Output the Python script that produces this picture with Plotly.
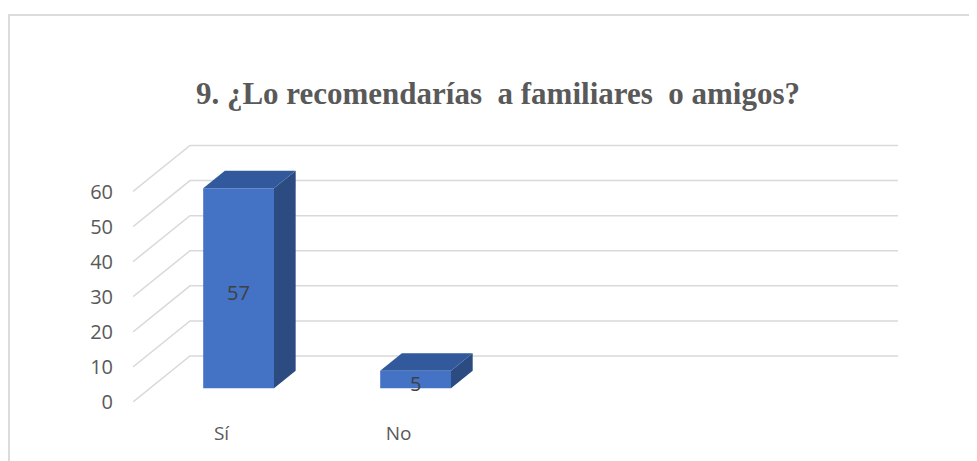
import plotly.graph_objects as go

# ── Data ──
categories = ["Sí", "No"]
values = [57, 5]
y_ticks = [0, 10, 20, 30, 40, 50, 60]

TITLE = "9. ¿Lo recomendarías  a familiares  o amigos?"

# ── Fake 3D projection (Excel-style 3D column) ──
N_SLOTS = 4          # category slots along the floor
DX = 0.322           # x shift of the back wall (category units)
DY = 13.11           # y shift of the back wall (value units)
BAR_W = 0.4
F0, F1 = 0.30, 0.68  # bar front / back depth (fraction of floor depth)

FRONT = "#4472c4"
SIDE = "#2c4b81"
TOP = "#32599c"
GRID = "#d9d9d9"
TEXT = "#595959"

# plot area in figure pixels
L, R, T, B = 125, 890, 132, 394
W, H = 977, 461


def proj(x, v, d):
    """Project a point (x, value, depth) onto the 2D axes."""
    return x + d * DX, v + d * DY


def poly(pts, color):
    xs = [p[0] for p in pts] + [pts[0][0]]
    ys = [p[1] for p in pts] + [pts[0][1]]
    return go.Scatter(x=xs, y=ys, mode="lines", fill="toself", fillcolor=color,
                      line=dict(width=0, color=color), hoverinfo="skip",
                      showlegend=False)


fig = go.Figure()

# gridlines: diagonal on the side wall + horizontal on the back wall
for v in y_ticks:
    x0, y0 = proj(0, v, 0)
    x1, y1 = proj(0, v, 1)
    x2, y2 = proj(N_SLOTS, v, 1)
    fig.add_trace(go.Scatter(x=[x0, x1, x2], y=[y0, y1, y2], mode="lines",
                             line=dict(color=GRID, width=1.5),
                             hoverinfo="skip", showlegend=False))

# bars
labels = []
for i, (cat, v) in enumerate(zip(categories, values)):
    xl, xr = i + 0.5 - BAR_W / 2, i + 0.5 + BAR_W / 2
    fl_b, fr_b = proj(xl, 0, F0), proj(xr, 0, F0)
    fl_t, fr_t = proj(xl, v, F0), proj(xr, v, F0)
    br_b, br_t, bl_t = proj(xr, 0, F1), proj(xr, v, F1), proj(xl, v, F1)
    fig.add_trace(poly([fr_b, br_b, br_t, fr_t], SIDE))
    fig.add_trace(poly([fl_t, fr_t, br_t, bl_t], TOP))
    fig.add_trace(poly([fl_b, fr_b, fr_t, fl_t], FRONT))
    cx, cy = proj(i + 0.5, v / 2, F0)
    labels.append(dict(x=cx, y=cy, text=str(v), showarrow=False, yshift=-4,
                       font=dict(family="Open Sans", size=20, color="#404040")))

y_top = (B - T) / 3.508

fig.update_layout(
    width=W,
    height=H,
    margin=dict(l=L, r=W - R, t=T, b=H - B),
    paper_bgcolor="white",
    plot_bgcolor="white",
    title=dict(text=f"<b>{TITLE}</b>", x=0.5015, xanchor="center", y=0.816, yanchor="middle",
               font=dict(family="Liberation Serif", size=31, color=TEXT)),
    xaxis=dict(range=[0, N_SLOTS + DX], tickvals=[i + 0.5 for i in range(len(categories))],
               ticktext=categories, showgrid=False, zeroline=False, showline=False,
               ticks="", ticklabelstandoff=18,
               tickfont=dict(family="Open Sans", size=19, color=TEXT)),
    yaxis=dict(range=[0, y_top], tickvals=y_ticks, showgrid=False, zeroline=False,
               showline=False, ticks="", ticklabelstandoff=19,
               tickfont=dict(family="Open Sans", size=20, color=TEXT)),
    annotations=labels,
    shapes=[dict(type="rect", xref="paper", yref="paper",
                 x0=(1 - L) / (R - L), x1=1.3, y0=-0.5, y1=(B - 7) / (B - T),
                 line=dict(color="#dcdcdc", width=2), layer="below")],
)

fig.write_html("out.html")
